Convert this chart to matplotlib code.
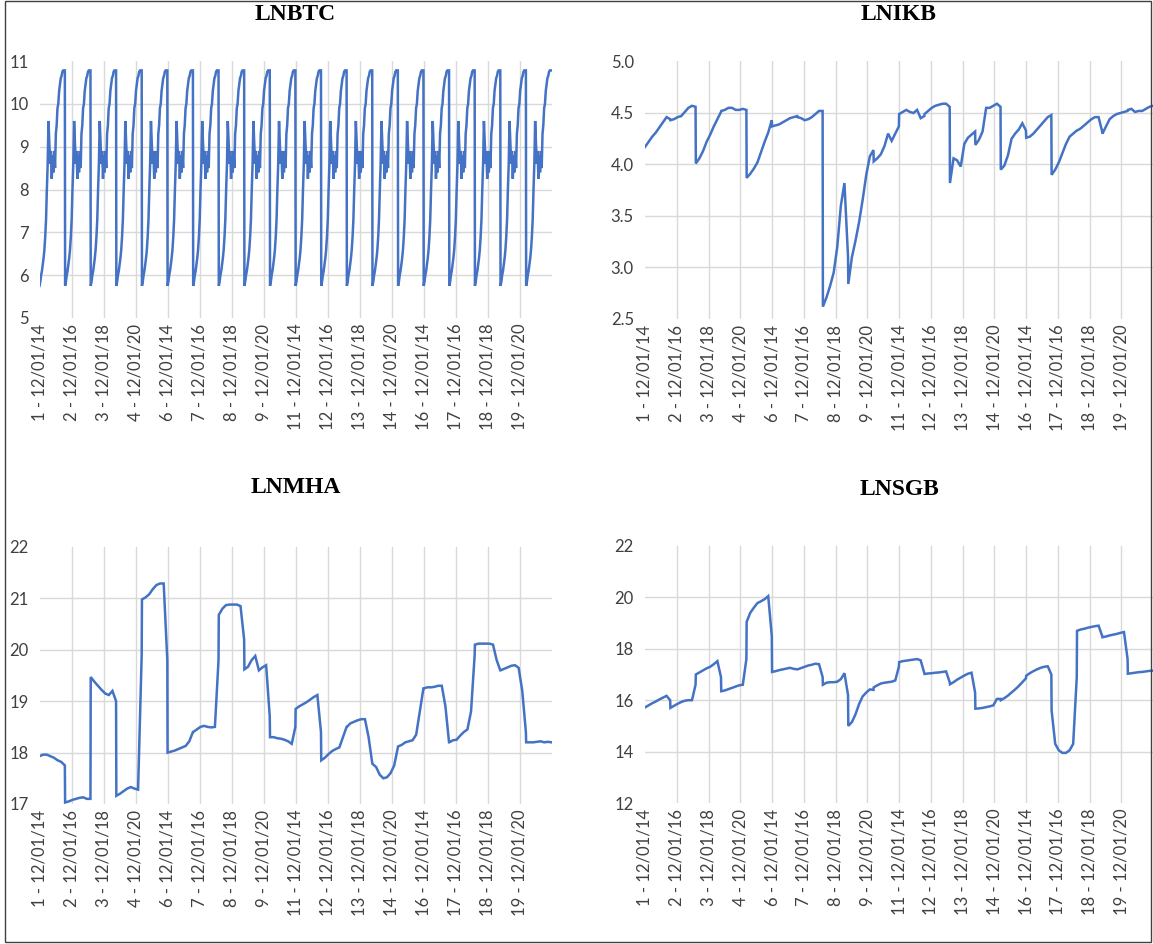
import numpy as np
import matplotlib.pyplot as plt
from matplotlib.patches import Rectangle

# panel layout: 20 firms x 96 monthly observations each
n_firms = 20
months_per_firm = 96

tick_labels = ["1 - 12/01/14", "2 - 12/01/16", "3 - 12/01/18", "4 - 12/01/20",
               "6 - 12/01/14", "7 - 12/01/16", "8 - 12/01/18", "9 - 12/01/20",
               "11 - 12/01/14", "12 - 12/01/16", "13 - 12/01/18", "14 - 12/01/20",
               "16 - 12/01/14", "17 - 12/01/16", "18 - 12/01/18", "19 - 12/01/20"]

# LNBTC is common to every firm: one quarterly cycle, repeated per firm
btc_cycle = [5.75, 5.85, 6.00, 6.10, 6.25, 6.40, 6.60, 6.90,
             7.30, 8.00, 8.60, 9.60, 9.10, 8.60, 8.90, 8.25,
             8.80, 8.40, 8.90, 8.50, 9.30, 9.50, 9.90, 10.00,
             10.30, 10.45, 10.60, 10.65, 10.75, 10.78, 10.78, 10.78]

# firm series, 8 readings per firm
ikb = [4.17, 4.22, 4.27, 4.31, 4.36, 4.41, 4.46, 4.44,
       4.43, 4.44, 4.46, 4.47, 4.51, 4.55, 4.57, 4.56,
       4.01, 4.06, 4.13, 4.22, 4.29, 4.37, 4.44, 4.51,
       4.52, 4.53, 4.55, 4.55, 4.53, 4.53, 4.54, 4.53,
       3.87, 3.91, 3.96, 4.02, 4.12, 4.22, 4.31, 4.43,
       4.37, 4.38, 4.39, 4.41, 4.43, 4.45, 4.46, 4.47,
       4.46, 4.45, 4.43, 4.44, 4.46, 4.49, 4.52, 4.52,
       2.62, 2.71, 2.82, 2.95, 3.20, 3.60, 3.82, 3.10,
       2.84, 3.10, 3.26, 3.44, 3.66, 3.90, 4.08, 4.14,
       4.03, 4.06, 4.10, 4.18, 4.30, 4.23, 4.30, 4.37,
       4.49, 4.51, 4.53, 4.51, 4.50, 4.53, 4.45, 4.47,
       4.49, 4.52, 4.55, 4.57, 4.58, 4.59, 4.59, 4.56,
       3.82, 4.06, 4.04, 3.98, 4.20, 4.26, 4.29, 4.32,
       4.19, 4.24, 4.32, 4.55, 4.55, 4.57, 4.59, 4.56,
       3.95, 3.99, 4.09, 4.25, 4.30, 4.34, 4.40, 4.33,
       4.26, 4.27, 4.30, 4.34, 4.38, 4.42, 4.46, 4.48,
       3.90, 3.95, 4.02, 4.11, 4.20, 4.27, 4.30, 4.33,
       4.33, 4.35, 4.38, 4.41, 4.44, 4.46, 4.46, 4.32,
       4.30, 4.37, 4.44, 4.47, 4.49, 4.50, 4.51, 4.52,
       4.53, 4.54, 4.51, 4.52, 4.52, 4.54, 4.56, 4.57]

mha = [17.93, 17.96, 17.96, 17.93, 17.90, 17.85, 17.82, 17.75,
       17.03, 17.05, 17.08, 17.10, 17.12, 17.13, 17.10, 17.10,
       19.47, 19.38, 19.30, 19.22, 19.15, 19.12, 19.20, 19.00,
       17.16, 17.20, 17.25, 17.30, 17.33, 17.30, 17.28, 19.90,
       20.98, 21.02, 21.08, 21.18, 21.26, 21.29, 21.29, 19.80,
       18.00, 18.02, 18.04, 18.07, 18.10, 18.13, 18.22, 18.40,
       18.40, 18.45, 18.50, 18.52, 18.50, 18.49, 18.50, 19.80,
       20.68, 20.80, 20.87, 20.88, 20.88, 20.88, 20.85, 20.20,
       19.62, 19.67, 19.80, 19.88, 19.60, 19.66, 19.70, 18.70,
       18.30, 18.30, 18.28, 18.27, 18.25, 18.22, 18.17, 18.50,
       18.85, 18.90, 18.94, 18.98, 19.03, 19.08, 19.12, 18.40,
       17.85, 17.90, 17.97, 18.03, 18.07, 18.10, 18.30, 18.50,
       18.50, 18.57, 18.60, 18.63, 18.65, 18.65, 18.30, 17.80,
       17.78, 17.72, 17.57, 17.50, 17.52, 17.60, 17.75, 18.10,
       18.12, 18.15, 18.20, 18.22, 18.24, 18.35, 18.80, 19.25,
       19.25, 19.27, 19.27, 19.28, 19.30, 19.30, 18.90, 18.20,
       18.20, 18.24, 18.25, 18.33, 18.40, 18.45, 18.80, 19.90,
       20.10, 20.12, 20.12, 20.12, 20.12, 20.10, 19.80, 19.60,
       19.60, 19.63, 19.66, 19.69, 19.70, 19.65, 19.20, 18.40,
       18.20, 18.20, 18.20, 18.21, 18.22, 18.20, 18.21, 18.20]

sgb = [15.72, 15.80, 15.88, 15.95, 16.03, 16.10, 16.17, 16.00,
       15.70, 15.78, 15.86, 15.93, 15.98, 16.00, 16.00, 16.60,
       17.00, 17.08, 17.16, 17.24, 17.30, 17.40, 17.52, 16.90,
       16.35, 16.38, 16.43, 16.48, 16.53, 16.58, 16.60, 17.60,
       19.05, 19.40, 19.60, 19.78, 19.85, 19.93, 20.05, 18.50,
       17.10, 17.13, 17.17, 17.20, 17.23, 17.26, 17.22, 17.20,
       17.20, 17.25, 17.30, 17.35, 17.38, 17.42, 17.40, 16.90,
       16.60, 16.68, 16.70, 16.70, 16.72, 16.82, 17.05, 16.20,
       15.00, 15.15, 15.45, 15.85, 16.15, 16.30, 16.42, 16.40,
       16.50, 16.58, 16.65, 16.68, 16.70, 16.72, 16.77, 17.30,
       17.48, 17.52, 17.54, 17.56, 17.58, 17.60, 17.55, 17.05,
       17.02, 17.04, 17.05, 17.07, 17.08, 17.10, 17.12, 16.70,
       16.62, 16.70, 16.80, 16.88, 16.96, 17.03, 17.07, 16.30,
       15.67, 15.68, 15.70, 15.73, 15.76, 15.80, 16.05, 16.05,
       16.00, 16.08, 16.18, 16.30, 16.42, 16.55, 16.70, 16.85,
       16.95, 17.05, 17.13, 17.20, 17.26, 17.30, 17.32, 17.00,
       15.60, 14.30, 14.05, 13.95, 13.95, 14.05, 14.30, 16.90,
       18.70, 18.75, 18.78, 18.82, 18.85, 18.88, 18.90, 18.50,
       18.45, 18.48, 18.52, 18.55, 18.58, 18.62, 18.65, 17.60,
       17.03, 17.05, 17.07, 17.09, 17.10, 17.12, 17.14, 17.15]


def firm_positions(pts_per_firm):
    step = np.linspace(0, months_per_firm - 1, pts_per_firm)
    return (np.arange(n_firms)[:, None] * months_per_firm + step).ravel()


W, H = 1153, 944
fig = plt.figure(figsize=(W / 100, H / 100), dpi=100)
plt.rcParams['font.family'] = ['Lato', 'DejaVu Sans']

line_color = '#4472C4'
grid_color = '#D9D9D9'
text_color = '#404040'


def add_panel(left, top, right, bottom, title, title_y, x, y, ylim, ystep, fmt):
    ax = fig.add_axes([left / W, 1 - bottom / H, (right - left) / W, (bottom - top) / H])
    ax.plot(x, y, color=line_color, lw=1.8, solid_joinstyle='miter')
    ax.set_xlim(0, n_firms * months_per_firm - 1)
    ax.set_ylim(*ylim)
    ticks = np.arange(ylim[0], ylim[1] + ystep / 2, ystep)
    ax.set_yticks(ticks)
    ax.set_yticklabels([fmt % t for t in ticks])
    ax.set_xticks(np.arange(len(tick_labels)) * 120)
    ax.set_xticklabels(tick_labels, rotation=90, ha='center', va='top')
    ax.tick_params(length=0, labelsize=12, labelcolor=text_color)
    ax.tick_params(axis='y', pad=8)
    ax.tick_params(axis='x', pad=4)
    for s in ax.spines.values():
        s.set_visible(False)
    ax.grid(True, color=grid_color, lw=1)
    ax.set_axisbelow(True)
    # no gridlines along the plot edges
    ax.xaxis.get_gridlines()[0].set_visible(False)
    ygl = ax.yaxis.get_gridlines()
    ygl[0].set_visible(False)
    ygl[-1].set_visible(False)
    fig.text((left + right) / 2 / W, 1 - title_y / H, title, ha='center', va='center',
             family='Liberation Serif', weight='bold', fontsize=17, color='#000000')
    return ax


btc_x = firm_positions(len(btc_cycle))
btc = np.tile(btc_cycle, n_firms)
firm_x = firm_positions(8)

add_panel(39.5, 61, 551.5, 318, 'LNBTC', 15, btc_x, btc, (5, 11), 1, '%d')
add_panel(645, 61.5, 1153, 319, 'LNIKB', 15, firm_x, ikb, (2.5, 5.0), 0.5, '%.1f')
add_panel(39.5, 547, 551.5, 804, 'LNMHA', 488, firm_x, mha, (17, 22), 1, '%d')
add_panel(645, 546, 1153, 803, 'LNSGB', 490, firm_x, sgb, (12, 22), 2, '%d')

# outer frame
fig.patches.append(Rectangle((5 / W, 2 / H), (W - 7) / W, (H - 3) / H, transform=fig.transFigure,
                             fill=False, edgecolor='#404040', lw=1))

fig.savefig('out.png', dpi=100)
